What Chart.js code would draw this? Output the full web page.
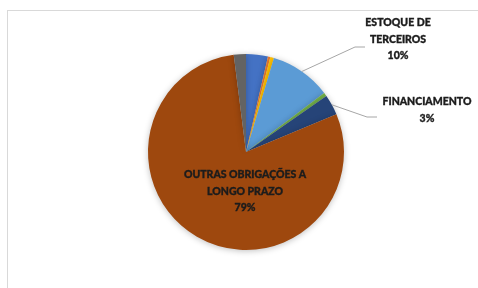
<!DOCTYPE html>
<html>
<head>
<meta charset="utf-8">
<script src="https://cdn.jsdelivr.net/npm/chart.js@4.4.1/dist/chart.umd.min.js"></script>
<style>
  html, body { margin: 0; padding: 0; background: #fff; overflow: hidden; }
  #wrap { position: relative; width: 478px; height: 288px; }
  #frame { position: absolute; left: 7px; top: 10px; width: 540px; height: 340px; border: 1px solid #d9d9d9; }
  canvas { position: absolute; left: 0; top: 0; }
</style>
</head>
<body>
<div id="wrap">
  <div id="frame"></div>
  <canvas id="pieChart" width="478" height="288"></canvas>
</div>
<script>
// data
const categories = ['FORNECEDORES', 'IMPOSTOS', 'SALÁRIOS', 'ESTOQUE DE TERCEIROS', 'ADIANTAMENTOS',
                    'FINANCIAMENTO', 'OUTRAS OBRIGAÇÕES A LONGO PRAZO', 'OUTROS'];
const values = [3.6, 0.4, 0.6, 10.1, 0.6, 3.4, 79.3, 2.0];
const colors = ['#4472C4', '#ED7D31', '#FFC000', '#5B9BD5', '#70AD47', '#264478', '#9E480E', '#636363'];

// label text lines for the slices that show a label
const labelLines = {
  3: ['ESTOQUE DE', 'TERCEIROS'],
  5: ['FINANCIAMENTO'],
  6: ['OUTRAS OBRIGAÇÕES A', 'LONGO PRAZO']
};

// label placement, relative to pie centre (dx, dy of first line; elbow of leader line)
const labelPlace = {
  3: { x: 152, y: -129, elbow: [[109, -105], [119, -105]] },
  5: { x: 181, y: -50, elbow: [[121, -35], [131, -35]] },
  6: { x: -1, y: 23 }
};

const total = values.reduce((a, b) => a + b, 0);

const pieLabels = {
  id: 'pieLabels',
  afterDatasetsDraw(chart) {
    const ctx = chart.ctx;
    const meta = chart.getDatasetMeta(0);
    ctx.save();
    ctx.font = '900 10.5px Lato, "Open Sans", sans-serif';
    ctx.fillStyle = '#1c1c1c';
    ctx.strokeStyle = '#1c1c1c';
    ctx.textAlign = 'center';
    ctx.textBaseline = 'middle';
    Object.keys(labelLines).forEach(k => {
      const i = Number(k);
      const arc = meta.data[i];
      const p = arc.getProps(['x', 'y', 'startAngle', 'endAngle', 'outerRadius'], true);
      const cx = p.x, cy = p.y;
      const place = labelPlace[i];
      if (place.elbow) {
        const mid = (p.startAngle + p.endAngle) / 2;
        ctx.save();
        ctx.beginPath();
        ctx.strokeStyle = '#a6a6a6';
        ctx.lineWidth = 1;
        ctx.moveTo(cx + Math.cos(mid) * p.outerRadius, cy + Math.sin(mid) * p.outerRadius);
        place.elbow.forEach(pt => ctx.lineTo(cx + pt[0], cy + pt[1]));
        ctx.stroke();
        ctx.restore();
      }
      const lines = labelLines[i].concat([Math.round(values[i] / total * 100) + '%']);
      ctx.lineWidth = 0.35;
      lines.forEach((t, j) => {
        ctx.fillText(t, cx + place.x, cy + place.y + j * 16.5);
        ctx.strokeText(t, cx + place.x, cy + place.y + j * 16.5);
      });
    });
    ctx.restore();
  }
};

const pieShadow = {
  id: 'pieShadow',
  beforeDatasetsDraw(chart) {
    const ctx = chart.ctx;
    ctx.save();
    ctx.shadowColor = 'rgba(0,0,0,0.25)';
    ctx.shadowBlur = 6;
    ctx.shadowOffsetX = 0;
    ctx.shadowOffsetY = 1;
  },
  afterDatasetsDraw(chart) {
    chart.ctx.restore();
  }
};

const ctx = document.getElementById('pieChart').getContext('2d');

const myChart = new Chart(ctx, {
  type: 'pie',
  data: {
    labels: categories,
    datasets: [{
      data: values,
      backgroundColor: colors,
      borderWidth: 0
    }]
  },
  options: {
    responsive: false,
    animation: false,
    layout: {
      padding: { left: 148, right: 134, top: 54, bottom: 38 }
    },
    plugins: {
      legend: { display: false },
      tooltip: { enabled: false }
    }
  },
  plugins: [pieShadow, pieLabels]
});
</script>
</body>
</html>
